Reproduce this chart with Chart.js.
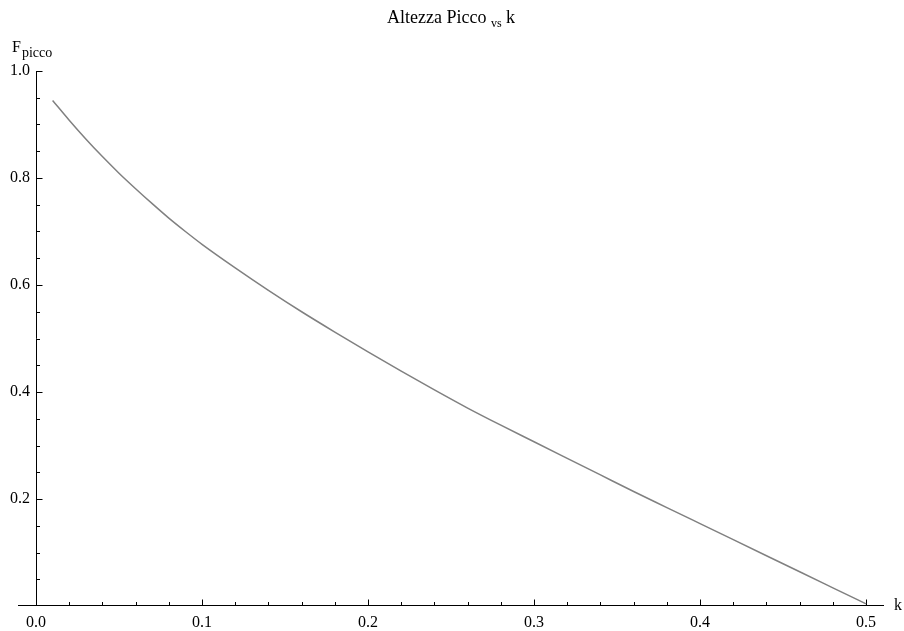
<!DOCTYPE html>
<html>
<head>
<meta charset="utf-8">
<script src="https://cdn.jsdelivr.net/npm/chart.js@4.4.0/dist/chart.umd.min.js"></script>
<style>
  html, body { margin: 0; padding: 0; background: #fff; }
  #wrap { width: 904px; height: 631px; }
</style>
</head>
<body>
<div id="wrap"><canvas id="plot"></canvas></div>
<script>
// peak height F_picco as a function of k
const kValues = [0.01, 0.02, 0.03, 0.04, 0.05, 0.06, 0.07, 0.08, 0.09, 0.10,
                 0.12, 0.14, 0.16, 0.18, 0.20, 0.22, 0.24, 0.26, 0.28, 0.30,
                 0.32, 0.34, 0.36, 0.38, 0.40, 0.42, 0.44, 0.46, 0.48, 0.50];
const fPicco  = [0.945, 0.908, 0.873, 0.840, 0.809, 0.780, 0.752, 0.725, 0.700, 0.676,
                 0.632, 0.590, 0.550, 0.512, 0.475, 0.439, 0.404, 0.370, 0.338, 0.307,
                 0.276, 0.245, 0.214, 0.184, 0.154, 0.124, 0.094, 0.064, 0.034, 0.004];
const xTicks = [0.0, 0.1, 0.2, 0.3, 0.4, 0.5];
const yTicks = [0.2, 0.4, 0.6, 0.8, 1.0];

const SERIF = '"Liberation Serif", "DejaVu Serif", serif';

// Mathematica-like axes: crossing lines with inward ticks, major and minor
const mmaAxes = {
    id: 'mmaAxes',
    beforeDatasetsDraw(chart) {
        const ctx = chart.ctx;
        const xs = chart.scales.x, ys = chart.scales.y;
        const area = chart.chartArea;
        const y0 = Math.round(ys.getPixelForValue(0)) - 0.5;
        const x0 = Math.round(xs.getPixelForValue(0)) + 0.5;
        ctx.save();
        ctx.strokeStyle = '#000';
        ctx.lineWidth = 1;
        ctx.beginPath();
        // x axis runs a little past the y axis on the left
        ctx.moveTo(Math.round(xs.getPixelForValue(-0.0108)), y0);
        ctx.lineTo(area.right, y0);
        ctx.moveTo(x0, y0);
        ctx.lineTo(x0, Math.round(ys.getPixelForValue(1.0)));
        for (let i = 1; i <= 25; i++) {
            const px = Math.round(xs.getPixelForValue(i * 0.02)) + 0.5;
            const len = i % 5 === 0 ? 6 : 3.5;
            ctx.moveTo(px, y0);
            ctx.lineTo(px, y0 - len);
        }
        for (let i = 1; i <= 20; i++) {
            const py = Math.round(ys.getPixelForValue(i * 0.05)) + 0.5;
            const len = i % 4 === 0 ? 6 : 3.5;
            ctx.moveTo(x0, py);
            ctx.lineTo(x0 + len, py);
        }
        ctx.stroke();
        ctx.restore();
    },
    afterDraw(chart) {
        const ctx = chart.ctx;
        ctx.save();
        ctx.fillStyle = '#000';
        ctx.textBaseline = 'alphabetic';

        // title: Altezza Picco_vs k
        const mainFont = '18px ' + SERIF;
        const subFont = '12px ' + SERIF;
        ctx.font = mainFont;
        const wA = ctx.measureText('Altezza Picco ').width;
        const wK = ctx.measureText(' k').width;
        ctx.font = subFont;
        const wV = ctx.measureText('vs').width;
        let tx = 451 - (wA + wV + wK) / 2;
        ctx.font = mainFont;
        ctx.fillText('Altezza Picco ', tx, 23);
        tx += wA;
        ctx.font = subFont;
        ctx.fillText('vs', tx, 27);
        tx += wV;
        ctx.font = mainFont;
        ctx.fillText(' k', tx, 23);

        // y axis label F_picco
        ctx.font = '16px ' + SERIF;
        ctx.fillText('F', 12, 52);
        const wF = ctx.measureText('F').width;
        ctx.font = '14px ' + SERIF;
        ctx.fillText('picco', 12 + wF + 1, 57);

        // x axis label
        ctx.font = '16px ' + SERIF;
        ctx.fillText('k', 894, 610);
        ctx.restore();
    }
};

new Chart(document.getElementById('plot'), {
    type: 'scatter',
    data: {
        datasets: [{
            data: kValues.map((k, i) => ({ x: k, y: fPicco[i] })),
            showLine: true,
            borderColor: '#808080',
            borderWidth: 1.5,
            pointRadius: 0,
            cubicInterpolationMode: 'monotone',
            fill: false
        }]
    },
    options: {
        responsive: true,
        maintainAspectRatio: false,
        animation: false,
        events: [],
        layout: { padding: { left: 0, right: 20, top: 71, bottom: 0 } },
        plugins: {
            legend: { display: false },
            title: { display: false },
            tooltip: { enabled: false }
        },
        scales: {
            x: {
                type: 'linear',
                min: 0,
                max: 0.5108,
                position: 'bottom',
                afterFit: s => { s.height = 25; },
                afterBuildTicks: s => { s.ticks = xTicks.map(v => ({ value: v })); },
                grid: { display: false, drawTicks: false, tickLength: 0 },
                border: { display: false },
                ticks: {
                    color: '#000',
                    padding: 7,
                    maxRotation: 0,
                    font: { family: SERIF, size: 16 },
                    callback: v => Number(v).toFixed(1)
                }
            },
            y: {
                type: 'linear',
                min: 0,
                max: 1.0,
                position: 'left',
                afterFit: s => { s.width = 36; },
                afterBuildTicks: s => { s.ticks = yTicks.map(v => ({ value: v })); },
                grid: { display: false, drawTicks: false, tickLength: 0 },
                border: { display: false },
                ticks: {
                    color: '#000',
                    padding: 6,
                    font: { family: SERIF, size: 16 },
                    callback: v => Number(v).toFixed(1)
                }
            }
        }
    },
    plugins: [mmaAxes]
});
</script>
</body>
</html>
